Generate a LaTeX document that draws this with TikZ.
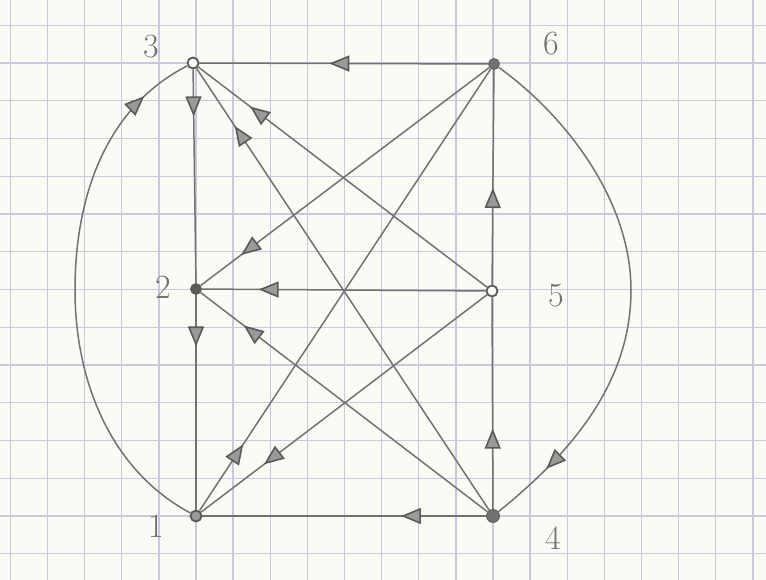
\documentclass[tikz,border=0pt]{standalone}
\usetikzlibrary{arrows.meta,decorations.markings}
\definecolor{paper}{HTML}{FBFBF6}
\definecolor{gridc}{HTML}{C8C8DE}
\definecolor{pencil}{HTML}{727272}
\definecolor{tipfill}{HTML}{9A9A9A}
\definecolor{tipdraw}{HTML}{5A5A5A}
\tikzset{
  x=1pt, y=-1pt,
  edge/.style={draw=pencil, line width=1.5pt},
  mk/.style={postaction={decorate}, decoration={markings,
     mark=at position #1 with {\arrow{Triangle[length=20pt,width=16pt,line width=1.6pt,fill=tipfill,color=tipdraw]}}}},
  vfull/.style={circle, fill=pencil, draw=tipdraw, line width=0.8pt, minimum size=11pt, inner sep=0pt},
  vopen/.style={circle, fill=paper, draw=tipdraw, line width=1.8pt, minimum size=11pt, inner sep=0pt},
  lab/.style={text=pencil, font=\fontsize{34}{34}\selectfont}
}
\begin{document}
\begin{tikzpicture}
\useasboundingbox (0,0) rectangle (766,580);
\fill[paper] (0,0) rectangle (766,580);
% grid
\foreach \k in {-5,...,15} {
  \draw[gridc, line width=1.4pt] ({196+37.125*\k},0) -- ({196+37.125*\k},580);
}
\foreach \k in {-1,...,13} {
  \draw[gridc, line width=1.4pt] (0,{63+37.75*\k}) -- (766,{63+37.75*\k});
}
% vertices
\node[vopen] (n3) at (193,63) {};
\node[vfull] (n6) at (494,64) {};
\node[vfull, fill=tipdraw] (n2) at (196,289) {};
\node[vopen] (n5) at (492,291) {};
\node[vopen, fill=tipfill] (n1) at (196,516) {};
\node[vfull, minimum size=13pt] (n4) at (493,516) {};
% labels
\node[lab] (l3) at (151,47) {3};
\node[lab] (l6) at (551,44) {6};
\node[lab] (l2) at (163,287) {2};
\node[lab] (l5) at (556,296) {5};
\node[lab] (l1) at (156,526) {1};
\node[lab] (l4) at (553,538) {4};
% straight edges
\draw[edge, mk=0.55] (n6) -- (n3);
\draw[edge, mk=0.22] (n3) -- (n2);
\draw[edge, mk=0.24] (n2) -- (n1);
\draw[edge, mk=0.8] (n5) -- (n2);
\draw[edge, mk=0.3] (n4) -- (n1);
\draw[edge, mk=0.45] (n5) -- (n6);
\draw[edge, mk=0.38] (n4) -- (n5);
\draw[edge, mk=0.82] (n5) -- (n3);
\draw[edge, mk=0.87] (n4) -- (n3);
\draw[edge, mk=0.86] (n6) -- (n2);
\draw[edge, mk=0.15] (n1) -- (n6);
\draw[edge, mk=0.85] (n4) -- (n2);
\draw[edge, mk=0.78] (n5) -- (n1);
% curved edges
\draw[edge, mk=0.9] (n1) .. controls (110,470) and (75,380) .. (75,290)
   .. controls (75,190) and (110,105) .. (n3);
\draw[edge, mk=0.88] (n6) .. controls (565,115) and (631,200) .. (631,290)
   .. controls (631,380) and (575,450) .. (n4);
\end{tikzpicture}
\end{document}
